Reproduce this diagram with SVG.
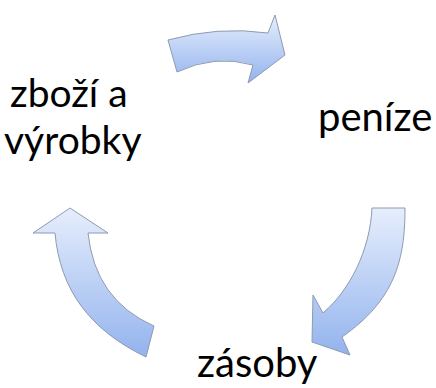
<svg xmlns="http://www.w3.org/2000/svg" width="436" height="388" viewBox="0 0 436 388">
  <defs>
    <linearGradient id="fillGrad" x1="0" y1="0" x2="0" y2="1">
      <stop offset="0" stop-color="#e6eefc"/>
      <stop offset="1" stop-color="#93b3ee"/>
    </linearGradient>
    <style>
      .arrow { fill: url(#fillGrad); stroke: #8d9ab0; stroke-width: 1; stroke-linejoin: miter; }
      .label { font-family: Lato, "Open Sans", sans-serif; font-size: 40px; fill: #000; }
      .label-tight { font-size: 39px; }
    </style>
  </defs>
  <rect width="436" height="388" fill="#ffffff"/>

  <!-- cycle arrows -->
  <g id="connectors">
    <path id="arrow-top" class="arrow" d="M168,40 Q218,26 268,33 L275,15 L285,55 L248,83 L253,65 Q215,54 177,72 Z"/>
    <path id="arrow-right" class="arrow" d="M372,208 L405,208 C405,260 395,300 342,337 L350,355 L312,342 L313,295 L323,313 C350,290 370,250 372,208 Z"/>
    <path id="arrow-left" class="arrow" d="M70,208 L108,233 L88,233 Q95,300 154,326 L146,357 C90,330 60,290 55,233 L33,233 Z"/>
  </g>

  <!-- two-line label -->
  <g id="node-zbozi">
    <text class="label label-tight" x="10" y="107">zboží a</text>
    <text class="label label-tight" x="4" y="154">výrobky</text>
  </g>
  <g id="node-penize">
    <text class="label" x="318" y="131">peníze</text>
  </g>
  <g id="node-zasoby">
    <text class="label" x="197" y="377">zásoby</text>
  </g>
</svg>
